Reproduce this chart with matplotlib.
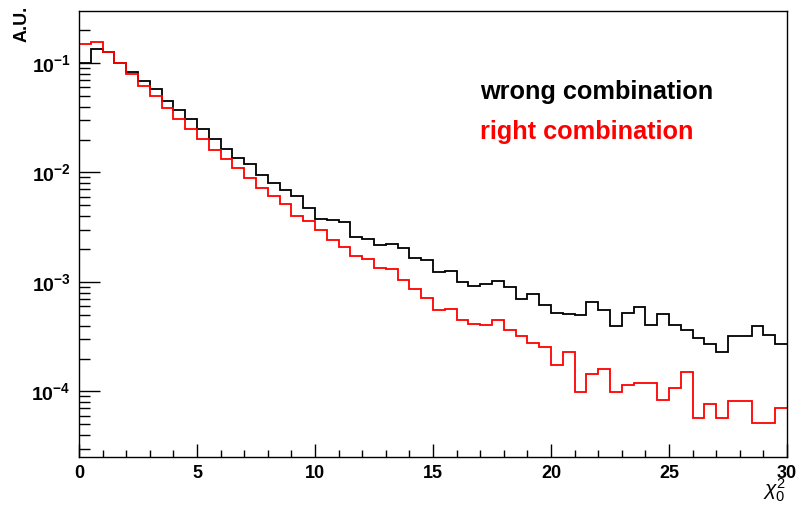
import numpy as np
import matplotlib
matplotlib.use('Agg')
from matplotlib import pyplot as plt
from matplotlib.ticker import FixedLocator, LogLocator, FuncFormatter, NullFormatter

# histogram contents, 60 bins of width 0.5 from 0 to 30
edges = np.linspace(0, 30, 61)
wrong = [0.101, 0.133, 0.125, 0.0994, 0.0822, 0.0689, 0.0575, 0.0447, 0.0372, 0.0306,
         0.0248, 0.0204, 0.0165, 0.0137, 0.0120, 0.00955, 0.00807, 0.00688, 0.00614, 0.00471,
         0.00379, 0.00368, 0.00356, 0.00259, 0.00245, 0.00218, 0.00224, 0.00205, 0.00165, 0.00160,
         0.00123, 0.00127, 0.000993, 0.000918, 0.000959, 0.00102, 0.000905, 0.000700, 0.000782, 0.000616,
         0.000526, 0.000515, 0.000497, 0.000661, 0.000549, 0.000399, 0.000525, 0.000597, 0.000403, 0.000510,
         0.000405, 0.000361, 0.000306, 0.000269, 0.000228, 0.000321, 0.000321, 0.000399, 0.000325, 0.000269]
right = [0.150, 0.157, 0.127, 0.101, 0.0788, 0.0617, 0.0500, 0.0391, 0.0308, 0.0248,
         0.0204, 0.0160, 0.0133, 0.0111, 0.00897, 0.00718, 0.00614, 0.00519, 0.00401, 0.00361,
         0.00299, 0.00242, 0.00210, 0.00172, 0.00161, 0.00135, 0.00132, 0.00104, 0.000857, 0.000710,
         0.000554, 0.000566, 0.000450, 0.000409, 0.000405, 0.000445, 0.000368, 0.000321, 0.000275, 0.000255,
         0.000175, 0.000228, 0.0000990, 0.000145, 0.000160, 0.0000990, 0.000114, 0.000120, 0.000120, 0.0000828,
         0.000108, 0.000149, 0.0000567, 0.0000761, 0.0000567, 0.0000824, 0.0000824, 0.0000513, 0.0000513, 0.0000703]
xticks = [0, 5, 10, 15, 20, 25, 30]

plt.rcParams['font.family'] = ['Liberation Sans', 'DejaVu Sans']
plt.rcParams['mathtext.fontset'] = 'custom'
plt.rcParams['mathtext.rm'] = 'Liberation Sans'
plt.rcParams['mathtext.it'] = 'Liberation Sans:italic'
plt.rcParams['mathtext.bf'] = 'Liberation Sans:bold'

fig = plt.figure(figsize=(7.98, 5.07), dpi=100)
ax = fig.add_axes([79/798, 1-457/507, 708/798, 446/507])

# baseline=None -> no vertical edges at the ends
ax.stairs(wrong, edges, color='black', lw=1.3, baseline=None)
ax.stairs(right, edges, color='red', lw=1.3, baseline=None)

ax.set_yscale('log')
ax.set_xlim(0, 30)
ax.set_ylim(2.52e-5, 0.2985)

ax.xaxis.set_major_locator(FixedLocator(xticks))
ax.xaxis.set_minor_locator(FixedLocator(np.arange(0, 31, 1)))
ax.yaxis.set_major_locator(LogLocator(base=10, numticks=10))
ax.yaxis.set_minor_locator(LogLocator(base=10, subs=np.arange(2, 10), numticks=20))
ax.yaxis.set_major_formatter(FuncFormatter(lambda v, p: r'$\mathbf{10^{%d}}$' % round(np.log10(v))))
ax.yaxis.set_minor_formatter(NullFormatter())

ax.tick_params(which='both', direction='in', top=False, right=False)
ax.tick_params(axis='x', which='major', length=9.5, width=1, pad=6, labelsize=13)
ax.tick_params(axis='x', which='minor', length=5, width=1)
ax.tick_params(axis='y', which='major', length=15, width=1, pad=6, labelsize=14)
ax.tick_params(axis='y', which='minor', length=8, width=1)
for lab in ax.get_xticklabels():
    lab.set_fontweight('bold')
for s in ax.spines.values():
    s.set_linewidth(1.0)

fig.text(22/798, 1-6/507, 'A.U.', rotation=90, ha='center', va='top',
         fontsize=13, fontweight='bold')
fig.text(786/798, 1-504/507, r'$\chi^{2}_{0}$', ha='right', va='bottom', fontsize=15)

fig.text(480/798, 1-92/507, 'wrong combination', ha='left', va='center',
         fontsize=18.2, fontweight='bold', color='black')
fig.text(480/798, 1-132/507, 'right combination', ha='left', va='center',
         fontsize=18.2, fontweight='bold', color='red')

fig.savefig('out.png', dpi=100)
